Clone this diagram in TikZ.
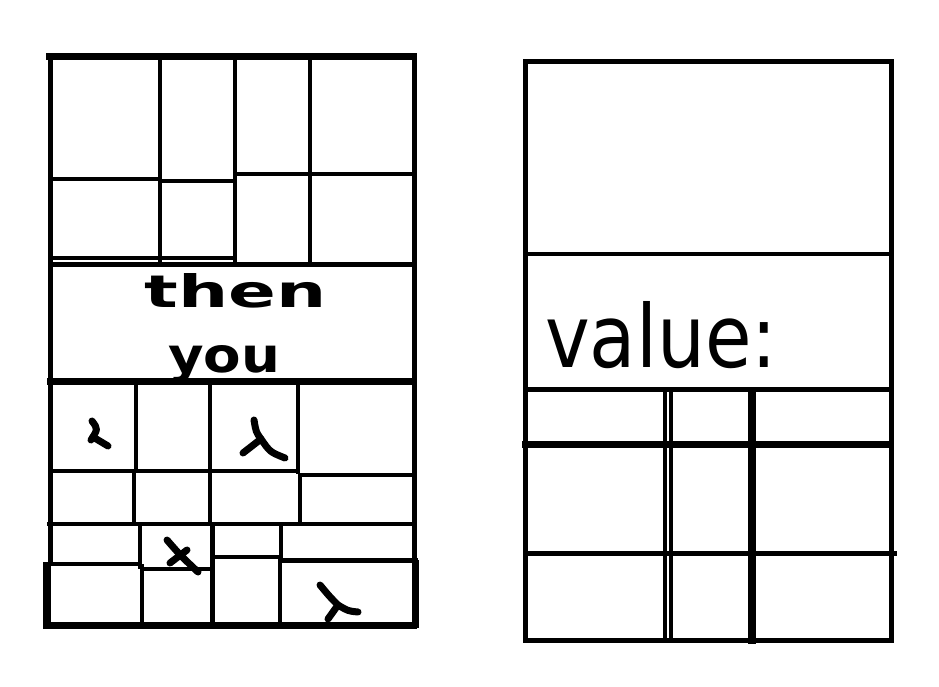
\documentclass[tikz,border=0pt]{standalone}
\usepackage{fontspec}
\setmainfont{DejaVu Sans}
\usepackage{graphicx}

\begin{document}
\begin{tikzpicture}[x=1pt, y=-1pt,
    wire/.style={black, line width=4pt},
    heavy/.style={black, line width=7pt},
    scribble/.style={black, line width=7pt, line cap=round, line join=round},
    hand/.style={inner sep=0pt, font=\bfseries}]
    \useasboundingbox (0,0) rectangle (939,686);
    % left sheet: outer frame
    \draw[heavy] (46,56) -- (417,56);
    \draw[wire, line width=5pt] (50,53) -- (50,566);
    \draw[heavy, line width=8pt] (47,562) -- (47,629);
    \draw[wire, line width=5pt] (414,53) -- (414,629);
    % top block
    \draw[wire] (160,56) -- (160,262);
    \draw[wire] (235,56) -- (235,262);
    \draw[wire] (310,56) -- (310,262);
    \draw[wire] (50,179) -- (160,179);
    \draw[wire] (160,181) -- (235,181);
    \draw[wire] (235,174) -- (414,174);
    \draw[wire] (50,258) -- (235,258);
    \draw[wire, line width=5pt] (50,264.5) -- (414,264.5);
    % text band
    \node[hand, anchor=base] (then) at (236,307) {\resizebox{182pt}{34pt}{then}};
    \node[hand, anchor=base] (you) at (224,372) {\resizebox{112pt}{27pt}{you}};
    \draw[heavy] (47,381) -- (414,381);
    % row 1
    \draw[wire] (136,381) -- (136,471);
    \draw[wire] (210,381) -- (210,471);
    \draw[wire] (298,381) -- (298,474);
    \draw[wire] (50,471) -- (300,471);
    \draw[wire] (298,474.5) -- (414,474.5);
    % row 2
    \draw[wire] (134,471) -- (134,524);
    \draw[wire] (210,471) -- (210,524);
    \draw[wire] (300,474) -- (300,524);
    \draw[wire] (47,524) -- (414,524);
    % row 3
    \draw[wire] (140,524) -- (140,569);
    \draw[wire, line width=5pt] (212,524) -- (212,627);
    \draw[wire] (281,524) -- (281,559);
    \draw[wire] (44,564) -- (142,564);
    \draw[wire] (140,568.5) -- (212,568.5);
    \draw[wire] (212,557) -- (282,557);
    \draw[wire, line width=5pt] (281,560) -- (418,560);
    % row 4
    \draw[wire] (142,564) -- (142,627);
    \draw[wire] (280,557) -- (280,622);
    \draw[heavy, line width=6pt] (416,560) -- (416,628);
    \draw[heavy] (44,625) -- (417,625);
    % marks in the cells
    \draw[scribble] (92,421) .. controls (98,429) .. (91,440);
    \draw[scribble] (93,437) -- (108,446);
    \draw[scribble] (254,420) .. controls (256,432) .. (261,439) .. controls (270,452) .. (285,458);
    \draw[scribble] (261,439) -- (243,453);
    \draw[scribble] (167,540) .. controls (180,555) .. (198,572);
    \draw[scribble] (187,550) -- (170,563);
    \draw[scribble] (320,585) .. controls (330,597) .. (338,605) .. controls (348,611) .. (358,612);
    \draw[scribble] (338,605) -- (328,619);
    % right sheet: outer frame
    \draw[wire, line width=5pt] (525.5,61.5) rectangle (891.5,640);
    \draw[wire] (525.5,254) -- (891.5,254);
    \node[hand, font=\mdseries, anchor=base west] (value) at (545,367) {\resizebox{232pt}{66pt}{value:}};
    \draw[wire, line width=5pt] (525.5,389) -- (891.5,389);
    % right sheet: table
    \draw[wire] (664.5,389) -- (664.5,640);
    \draw[wire] (670.5,389) -- (670.5,640);
    \draw[heavy, line width=8pt] (752,389) -- (752,644);
    \draw[heavy, line width=7.5pt] (522,444.5) -- (891.5,444.5);
    \draw[wire, line width=5pt] (525.5,553) -- (897,553);
\end{tikzpicture}
\end{document}
